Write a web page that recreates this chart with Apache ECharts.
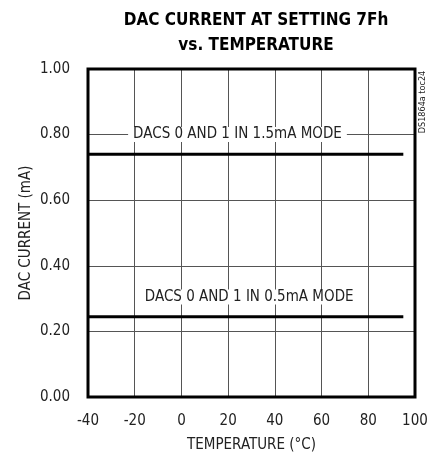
<!DOCTYPE html>
<html>
<head>
<meta charset="utf-8">
<script src="https://cdn.jsdelivr.net/npm/echarts@6/dist/echarts.min.js"></script>
<style>
  html, body { margin: 0; padding: 0; background: #fff; }
  #chart { width: 440px; height: 459px; }
</style>
</head>
<body>
<div id="chart"></div>
<script>
// temperature (°C) and DAC current (mA)
let temps = [-40, 95]
let mode15 = [0.74, 0.74]
let mode05 = [0.245, 0.245]

let xTicks = [-40, -20, 0, 20, 40, 60, 80, 100]
let yTicks = [0, 0.2, 0.4, 0.6, 0.8, 1.0]

let labelText = ['DACS 0 AND 1 IN 1.5mA MODE', 'DACS 0 AND 1 IN 0.5mA MODE']
let labelAt = [[24, 0.8], [29, 0.305]]

let font = '"DejaVu Sans Condensed", sans-serif'

let chart = echarts.init(document.getElementById('chart'), null, { renderer: 'canvas' })

function pairs(xs, ys) {
  return xs.map((x, i) => [x, ys[i]])
}

// text sitting on the plot, white box hides the grid behind it
function annotation(i) {
  return {
    symbol: 'circle',
    symbolSize: 1,
    silent: true,
    itemStyle: { color: 'rgba(0,0,0,0)' },
    label: {
      show: true,
      position: 'inside',
      formatter: labelText[i],
      color: '#222',
      fontFamily: font,
      fontSize: 15,
      backgroundColor: '#fff',
      padding: [0, 5]
    },
    data: [{ coord: labelAt[i] }]
  }
}

chart.setOption({
  animation: false,
  title: {
    text: 'DAC CURRENT AT SETTING 7Fh\nvs. TEMPERATURE',
    left: 251,
    top: 3,
    textAlign: 'center',
    textStyle: {
      fontFamily: font,
      fontWeight: 'bold',
      fontSize: 17,
      lineHeight: 25,
      color: '#000'
    }
  },
  grid: { left: 88, right: 25, top: 69, bottom: 62 },
  xAxis: {
    type: 'value',
    min: -40,
    max: 100,
    interval: 20,
    name: 'TEMPERATURE (°C)',
    nameLocation: 'middle',
    nameGap: 41,
    nameMoveOverlap: false,
    nameTextStyle: { fontFamily: font, fontSize: 15, color: '#222' },
    axisLine: { show: false },
    axisTick: { show: false },
    axisLabel: {
      fontFamily: font, fontSize: 15, color: '#222', margin: 17,
      formatter: v => xTicks.includes(v) ? String(v) : ''
    },
    splitLine: { show: true, lineStyle: { color: '#555', width: 1 } }
  },
  yAxis: {
    type: 'value',
    min: 0,
    max: 1,
    interval: 0.2,
    name: 'DAC CURRENT (mA)',
    nameLocation: 'middle',
    nameGap: 54,
    nameMoveOverlap: false,
    nameTextStyle: { fontFamily: font, fontSize: 15, color: '#222' },
    axisLine: { show: false },
    axisTick: { show: false },
    axisLabel: {
      fontFamily: font, fontSize: 15, color: '#222', margin: 18,
      formatter: v => yTicks.some(t => Math.abs(t - v) < 1e-9) ? v.toFixed(2) : ''
    },
    splitLine: { show: true, lineStyle: { color: '#555', width: 1 } }
  },
  graphic: [
    {
      type: 'rect',
      shape: { x: 88, y: 69, width: 327, height: 328 },
      style: { fill: 'none', stroke: '#000', lineWidth: 3 },
      z: 10
    },
    {
      type: 'text',
      x: 423,
      y: 102,
      rotation: Math.PI / 2,
      style: {
        text: 'DS1864a toc24',
        fontFamily: font,
        fontSize: 9,
        fill: '#222',
        align: 'center',
        verticalAlign: 'middle'
      }
    }
  ],
  series: [
    {
      name: '1.5mA',
      type: 'line',
      data: pairs(temps, mode15),
      symbol: 'none',
      lineStyle: { color: '#000', width: 3 },
      markPoint: annotation(0),
      z: 5
    },
    {
      name: '0.5mA',
      type: 'line',
      data: pairs(temps, mode05),
      symbol: 'none',
      lineStyle: { color: '#000', width: 3 },
      markPoint: annotation(1),
      z: 5
    }
  ]
})
</script>
</body>
</html>
